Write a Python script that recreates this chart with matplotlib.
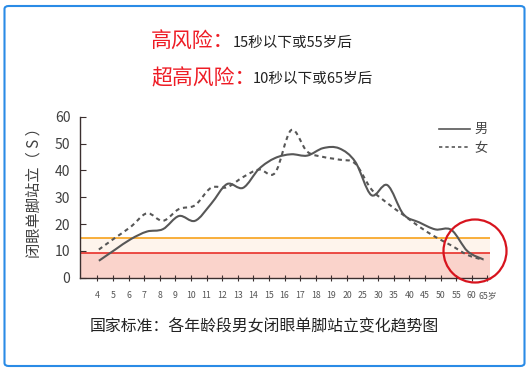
import numpy as np
import matplotlib
matplotlib.use("Agg")
import matplotlib.pyplot as plt
from matplotlib.path import Path
from matplotlib.patches import PathPatch, Ellipse, FancyBboxPatch
from matplotlib.lines import Line2D

plt.rcParams['font.family'] = ['Noto Sans CJK SC', 'DejaVu Sans']

# ---------------- data ----------------
age_labels = ['4', '5', '6', '7', '8', '9', '10', '11', '12', '13', '14', '15', '16',
              '17', '18', '19', '20', '25', '30', '35', '40', '45', '50', '55', '60', '65岁']
male_values = [6.3, 10.4, 14.4, 17.2, 18.1, 23.0, 21.2, 27.5, 34.9, 33.5, 40.6, 44.6,
               46.0, 45.5, 48.3, 48.2, 43.2, 30.8, 34.5, 23.7, 20.6, 18.0, 17.8, 9.9, 6.8]
female_values = [10.5, 14.8, 19.0, 24.0, 21.2, 25.6, 27.0, 33.5, 33.7, 37.5, 40.3, 39.1,
                 55.0, 47.0, 45.0, 44.0, 42.5, 33.0, 27.8, 23.4, 19.0, 15.2, 12.0, 8.5, 6.6]
high_risk = 14.8
very_high_risk = 9.3
y_ticks = [0, 10, 20, 30, 40, 50, 60]
series_names = ['男', '女']
line_start, line_end = 0.1, 24.75

W, H = 532, 376
fig = plt.figure(figsize=(W / 100, H / 100), dpi=100)
ax = fig.add_axes([80 / W, 1 - 277.7 / H, 410 / W, 161 / H])

x_cat = np.arange(len(age_labels))
x_line = np.linspace(line_start, line_end, len(male_values))

xmin, xmax = -1.11, 25.17
ax.set_xlim(xmin, xmax)
ax.set_ylim(0, 60)

# risk bands
ax.axhspan(0, very_high_risk, color='#fad3cb', lw=0, zorder=0)
ax.axhspan(very_high_risk, high_risk, color='#fef4ec', lw=0, zorder=0)
ax.axhline(very_high_risk, color='#e8302a', lw=1.2, zorder=1)
ax.axhline(high_risk, color='#f7a21b', lw=1.2, zorder=1)


def smooth_path(xs, ys):
    pts = np.column_stack([xs, ys])
    n = len(pts)
    verts = [pts[0]]
    codes = [Path.MOVETO]
    for i in range(n - 1):
        p0 = pts[i - 1] if i > 0 else pts[i]
        p1 = pts[i]
        p2 = pts[i + 1]
        p3 = pts[i + 2] if i + 2 < n else pts[i + 1]
        c1 = p1 + (p2 - p0) / 6.0
        c2 = p2 - (p3 - p1) / 6.0
        verts += [c1, c2, p2]
        codes += [Path.CURVE4] * 3
    return Path(verts, codes)


line_color = '#575757'
ax.add_patch(PathPatch(smooth_path(x_line, male_values), fill=False,
                       edgecolor=line_color, lw=1.5, zorder=3))
ax.add_patch(PathPatch(smooth_path(x_line, female_values), fill=False,
                       edgecolor=line_color, lw=1.5, ls=(0, (2.0, 1.8)), zorder=3))

# axes styling
for s in ['top', 'right']:
    ax.spines[s].set_visible(False)
for s in ['left', 'bottom']:
    ax.spines[s].set_color('#3b2f2f')
    ax.spines[s].set_linewidth(1.0)

ax.set_yticks(y_ticks)
ax.tick_params(axis='y', direction='in', length=4, width=0.8, color='#3b2f2f',
               labelsize=10, labelcolor='#404040', pad=7)
ax.set_xticks(x_cat)
ax.set_xticklabels(age_labels)
ax.tick_params(axis='x', direction='inout', length=5, width=0.8, color='#3b2f2f',
               labelsize=6.3, labelcolor='#555555', pad=7)

ax.set_ylabel('闭眼单脚站立（ S ）', fontsize=11, color='#404040')
ax.yaxis.set_label_coords(-(80 - 43) / 410, 0.55)

# legend
handles = [Line2D([], [], color=line_color, lw=1.2),
           Line2D([], [], color=line_color, lw=1.2, ls=(0, (2.0, 1.8)))]
leg = fig.legend(handles, series_names, loc='upper left',
                 bbox_to_anchor=(434 / W, 1 - 118 / H), frameon=False,
                 fontsize=9.5, handlelength=2.3, handletextpad=0.4,
                 labelspacing=0.4, borderaxespad=0)
for t in leg.get_texts():
    t.set_color('#444444')

# red circle highlighting the tail
fig.add_artist(Ellipse((475 / W, 1 - 251 / H), width=63 / W, height=63 / H,
                       transform=fig.transFigure, fill=False,
                       edgecolor='#d7141e', lw=1.6, zorder=5))

# header texts
red = '#ee1c25'
fig.text(151 / W, 1 - 42 / H, '高风险：', color=red, fontsize=15, ha='left', va='center')
fig.text(233 / W, 1 - 43 / H, '15秒以下或55岁后', color='#222222', fontsize=10.5,
         ha='left', va='center')
fig.text(151 / W, 1 - 78 / H, '超高风险：', color=red, fontsize=15, ha='left', va='center')
fig.text(253 / W, 1 - 79 / H, '10秒以下或65岁后', color='#222222', fontsize=10.5,
         ha='left', va='center')

# caption
fig.text(264 / W, 1 - 327 / H, '国家标准：各年龄段男女闭眼单脚站立变化趋势图',
         color='#222222', fontsize=11.4, ha='center', va='center')

# frame
fig.add_artist(FancyBboxPatch((4.5 / W, 1 - 366 / H), (524.5 - 4.5) / W, (366 - 6) / H,
                              boxstyle='round,pad=0,rounding_size=0.008',
                              transform=fig.transFigure, fill=False,
                              edgecolor='#2a8be6', lw=1.5, zorder=6))

fig.savefig('out.png', dpi=100)
